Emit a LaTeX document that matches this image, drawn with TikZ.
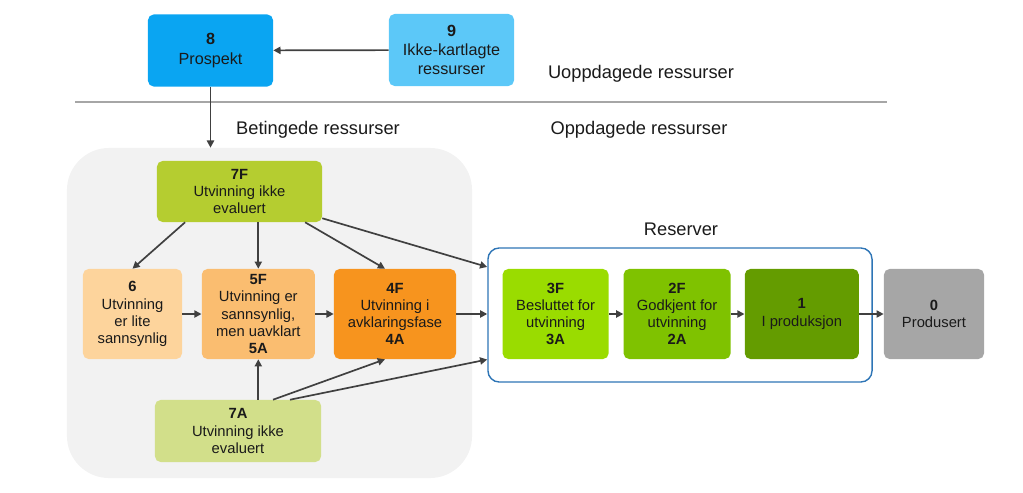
\documentclass[tikz,border=0pt]{standalone}
\usepackage{fontspec}
\setmainfont{Liberation Sans}
\usepackage{tikz}
\usetikzlibrary{arrows.meta,positioning,calc}
\definecolor{prospblue}{HTML}{0AA5F2}
\definecolor{unmapblue}{HTML}{5CC8F8}
\definecolor{groundgray}{HTML}{F2F2F2}
\definecolor{linegray}{HTML}{A6A6A6}
\definecolor{arrowgray}{HTML}{404040}
\definecolor{textink}{HTML}{1A1A1A}
\definecolor{evalgreen}{HTML}{B5CD30}
\definecolor{evalpale}{HTML}{D2DF8A}
\definecolor{lowpeach}{HTML}{FDD49C}
\definecolor{midpeach}{HTML}{FABD70}
\definecolor{clarorange}{HTML}{F7941E}
\definecolor{decidgreen}{HTML}{9ADC00}
\definecolor{approvgreen}{HTML}{7FC200}
\definecolor{prodgreen}{HTML}{649C00}
\definecolor{donegray}{HTML}{A6A6A6}
\definecolor{reserveblue}{HTML}{2E75B6}

\begin{document}
\begin{tikzpicture}[
  x=0.025cm, y=-0.025cm,
  phase/.style={rounded corners=4pt, align=center, inner sep=2pt,
    minimum height=2.25cm, text=textink,
    font=\fontsize{10.5}{12.2}\selectfont},
  upper/.style={phase, minimum width=3.125cm, minimum height=1.8cm,
    font=\fontsize{11.5}{13.8}\selectfont},
  flow/.style={-{Triangle[length=1.8mm,width=1.8mm]}, line width=1.2pt, draw=arrowgray},
  heading/.style={text=textink, font=\fontsize{13}{15}\selectfont}
]
  \useasboundingbox (0,0) rectangle (1023,492);

  % regions
  \node[fill=groundgray, rounded corners=30pt, minimum width=10.125cm,
    minimum height=8.25cm] (betinget) at (269.5,313) {};
  \node[draw=reserveblue, line width=1pt, rounded corners=8pt, minimum width=9.6cm,
    minimum height=3.35cm] (reserver) at (680,315) {};
  \coordinate (skilleA) at (75,102);
  \coordinate (skilleB) at (887,102);
  \draw[linegray, line width=1.5pt] (skilleA) -- (skilleB);

  \node[heading] (uoppdaget) at (641,74) {Uoppdagede ressurser};
  \node[heading] (betingettxt) at (318,130) {Betingede ressurser};
  \node[heading] (oppdaget) at (639,130) {Oppdagede ressurser};
  \node[heading] (reservertxt) at (681,229) {Reserver};

  % undiscovered
  \node[upper, fill=prospblue] (prospekt) at (210.5,50.5) {\textbf{8}\\Prospekt};
  \node[upper, fill=unmapblue] (ukartlagt) at (451.5,50) {\textbf{9}\\Ikke-kartlagte\\ressurser};

  % contingent
  \node[phase, fill=evalgreen, minimum width=4.125cm, minimum height=1.525cm]
    (f7) at (239.5,191.5) {\textbf{7F}\\Utvinning ikke\\evaluert};
  \node[phase, fill=lowpeach, minimum width=2.475cm] (a6) at (132.5,314)
    {\textbf{6}\\Utvinning\\er lite\\sannsynlig};
  \node[phase, fill=midpeach, minimum width=2.825cm, right=0.48cm of a6] (f5)
    {\textbf{5F}\\Utvinning er\\sannsynlig,\\men uavklart\\\textbf{5A}};
  \node[phase, fill=clarorange, minimum width=3.05cm, right=0.465cm of f5] (f4)
    {\textbf{4F}\\Utvinning i\\avklaringsfase\\\textbf{4A}};
  \node[phase, fill=evalpale, minimum width=4.15cm, minimum height=1.55cm]
    (a7) at (238,431) {\textbf{7A}\\Utvinning ikke\\evaluert};

  % reserves
  \node[phase, fill=decidgreen, minimum width=2.65cm, right=1.15cm of f4] (f3)
    {\textbf{3F}\\Besluttet for\\utvinning\\\textbf{3A}};
  \node[phase, fill=approvgreen, minimum width=2.675cm, right=0.36cm of f3] (f2)
    {\textbf{2F}\\Godkjent for\\utvinning\\\textbf{2A}};
  \node[phase, fill=prodgreen, minimum width=2.85cm, right=0.34cm of f2] (p1)
    {\textbf{1}\\I produksjon};
  \node[phase, fill=donegray, minimum width=2.5cm, right=0.615cm of p1] (p0)
    {\textbf{0}\\Produsert};

  \draw[flow] (ukartlagt) -- (prospekt);
  \draw[flow] (prospekt) -- (prospekt |- betinget.north);

  \draw[flow] ([xshift=-1.36cm]f7.south) -- (a6.north);
  \draw[flow] (f7.south -| f5.north) -- (f5.north);
  \draw[flow] ([xshift=1.64cm]f7.south) -- ([xshift=-0.25cm]f4.north);
  \draw[flow] ([yshift=0.1cm]f7.south east) -- (reserver.166);

  \draw[flow] (a6) -- (f5);
  \draw[flow] (f5) -- (f4);
  \draw[flow] (f4) -- (f4 -| reserver.west);

  \draw[flow] (a7.north -| f5.south) -- (f5.south);
  \draw[flow] ([xshift=0.875cm]a7.north) -- ([xshift=-0.25cm]f4.south);
  \draw[flow] ([xshift=1.3cm]a7.north) -- (reserver.193);

  \draw[flow] (f3) -- (f2);
  \draw[flow] (f2) -- (p1);
  \draw[flow] (p1) -- (p0);
\end{tikzpicture}
\end{document}
